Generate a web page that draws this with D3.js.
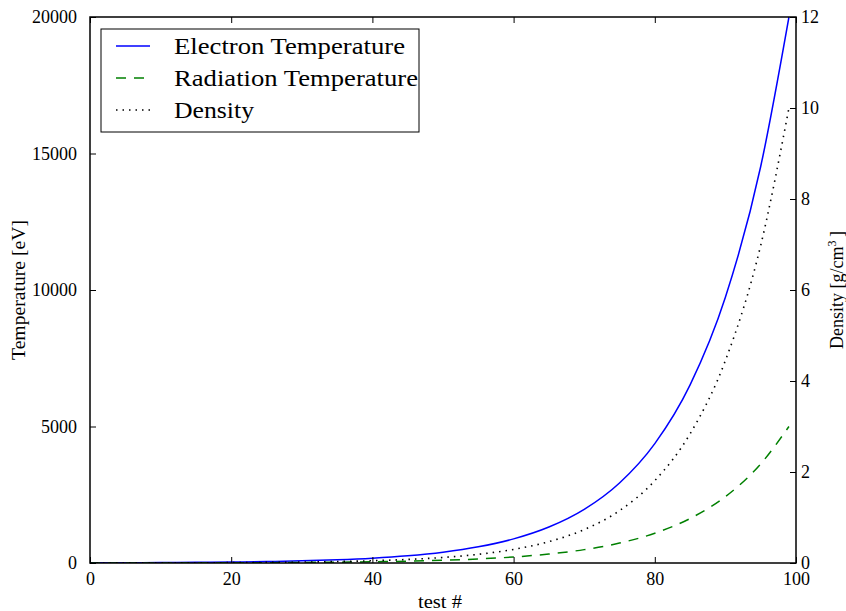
<!DOCTYPE html>
<html>
<head>
<meta charset="utf-8">
<script src="https://cdn.jsdelivr.net/npm/d3@7"></script>
<style>
  html, body { margin: 0; padding: 0; background: #fff; }
  svg { display: block; }
  text { font-family: "Liberation Serif", "DejaVu Serif", serif; fill: #000; }
</style>
</head>
<body>
<svg id="chart" width="846" height="611"></svg>
<script>
// Test index (shared x values for every series)
const testIndex = [0, 5, 10, 15, 20, 25, 30, 35, 40, 45, 50, 55, 60, 65, 70, 75, 80, 85, 90, 95, 99];

// Electron temperature [eV]
const electronTemp = [7, 11, 16, 24, 36, 54, 80, 120, 178, 266, 397, 592, 883, 1317, 1965, 2932, 4374, 6526, 9735, 14523, 20000];

// Radiation temperature [eV]
const radiationTemp = [2, 3, 4, 6, 9, 13, 20, 30, 45, 66, 99, 148, 220, 330, 490, 730, 1090, 1630, 2430, 3630, 5000];

// Density [g/cm^3]
const density = [0.001, 0.002, 0.003, 0.005, 0.008, 0.013, 0.020, 0.032, 0.050, 0.078, 0.122, 0.191, 0.299, 0.469, 0.735, 1.15, 1.81, 2.84, 4.45, 6.98, 10];

// Axis ticks
const xTicks = [0, 20, 40, 60, 80, 100];
const tempTicks = [0, 5000, 10000, 15000, 20000];
const densTicks = [0, 2, 4, 6, 8, 10, 12];

// Legend entries
const seriesNames = ["Electron Temperature", "Radiation Temperature", "Density"];
const legendWidths = [231, 244, 80];

const svg = d3.select("#chart");
const plot = { left: 90, right: 796, top: 17, bottom: 563 };

const x = d3.scaleLinear().domain([0, 100]).range([plot.left, plot.right]);
const yT = d3.scaleLinear().domain([0, 20000]).range([plot.bottom, plot.top]);
const yD = d3.scaleLinear().domain([0, 12]).range([plot.bottom, plot.top]);

svg.append("defs").append("clipPath").attr("id", "plotClip")
  .append("rect")
  .attr("x", plot.left).attr("y", plot.top)
  .attr("width", plot.right - plot.left).attr("height", plot.bottom - plot.top);

const styles = [
  { color: "#0000ff", dash: null, width: 1.5 },
  { color: "#008000", dash: "10,8", width: 1.5 },
  { color: "#000000", dash: "1.5,5", width: 1.6 }
];

const lineT = d3.line().x((d, i) => x(testIndex[i])).y(d => yT(d)).curve(d3.curveMonotoneX);
const lineD = d3.line().x((d, i) => x(testIndex[i])).y(d => yD(d)).curve(d3.curveMonotoneX);

const curves = svg.append("g").attr("clip-path", "url(#plotClip)");
[[electronTemp, lineT], [radiationTemp, lineT], [density, lineD]].forEach(([vals, gen], k) => {
  curves.append("path")
    .attr("d", gen(vals))
    .attr("fill", "none")
    .attr("stroke", styles[k].color)
    .attr("stroke-width", styles[k].width)
    .attr("stroke-dasharray", styles[k].dash);
});

// Axes: ticks point inward on all four sides
const tickLen = 6;
const fmt = d3.format("d");

const axBottom = d3.axisBottom(x).tickValues(xTicks).tickFormat(fmt).tickSizeInner(-tickLen).tickSizeOuter(0).tickPadding(9);
const axTop = d3.axisTop(x).tickValues(xTicks).tickFormat("").tickSizeInner(-tickLen).tickSizeOuter(0);
const axLeft = d3.axisLeft(yT).tickValues(tempTicks).tickFormat(fmt).tickSizeInner(-tickLen).tickSizeOuter(0).tickPadding(13);
const axRight = d3.axisRight(yD).tickValues(densTicks).tickFormat(fmt).tickSizeInner(-tickLen).tickSizeOuter(0).tickPadding(5);

function styleAxis(g) {
  g.select(".domain").remove();
  g.selectAll(".tick line").attr("stroke", "#000").attr("stroke-width", 1);
  g.selectAll(".tick text").style("font-size", "18px").attr("font-family", null);
}

svg.append("g").attr("transform", `translate(0,${plot.bottom})`).call(axBottom).call(styleAxis);
svg.append("g").attr("transform", `translate(0,${plot.top})`).call(axTop).call(styleAxis);
svg.append("g").attr("transform", `translate(${plot.left},0)`).call(axLeft).call(styleAxis);
svg.append("g").attr("transform", `translate(${plot.right},0)`).call(axRight).call(styleAxis);

// Frame
svg.append("rect")
  .attr("x", plot.left).attr("y", plot.top)
  .attr("width", plot.right - plot.left).attr("height", plot.bottom - plot.top)
  .attr("fill", "none").attr("stroke", "#000").attr("stroke-width", 1.5);

// Axis titles
svg.append("text")
  .attr("x", (plot.left + plot.right) / 2 - 3).attr("y", 608)
  .attr("text-anchor", "middle").style("font-size", "18px")
  .attr("textLength", 44).attr("lengthAdjust", "spacingAndGlyphs")
  .text("test #");

svg.append("text")
  .attr("transform", `translate(25,${(plot.top + plot.bottom) / 2}) rotate(-90)`)
  .attr("text-anchor", "middle").style("font-size", "18px")
  .attr("textLength", 140).attr("lengthAdjust", "spacingAndGlyphs")
  .text("Temperature [eV]");

const dl = svg.append("text")
  .attr("transform", `translate(843,${(plot.top + plot.bottom) / 2}) rotate(-90)`)
  .attr("text-anchor", "middle").style("font-size", "18px");
dl.append("tspan").text("Density [g/cm");
dl.append("tspan").attr("baseline-shift", "super").style("font-size", "12px").text("3");
dl.append("tspan").text("\u2009]");

// Legend
const legend = svg.append("g");
legend.append("rect")
  .attr("x", 101).attr("y", 29).attr("width", 318).attr("height", 103)
  .attr("fill", "#fff").attr("stroke", "#000").attr("stroke-width", 1);

seriesNames.forEach((name, k) => {
  const cy = 46 + k * 32;
  legend.append("line")
    .attr("x1", 116).attr("x2", 150).attr("y1", cy).attr("y2", cy)
    .attr("stroke", styles[k].color)
    .attr("stroke-width", styles[k].width)
    .attr("stroke-dasharray", styles[k].dash);
  legend.append("text")
    .attr("x", 174).attr("y", cy).attr("dy", "0.35em")
    .style("font-size", "23px")
    .attr("textLength", legendWidths[k]).attr("lengthAdjust", "spacingAndGlyphs")
    .text(name);
});
</script>
</body>
</html>
